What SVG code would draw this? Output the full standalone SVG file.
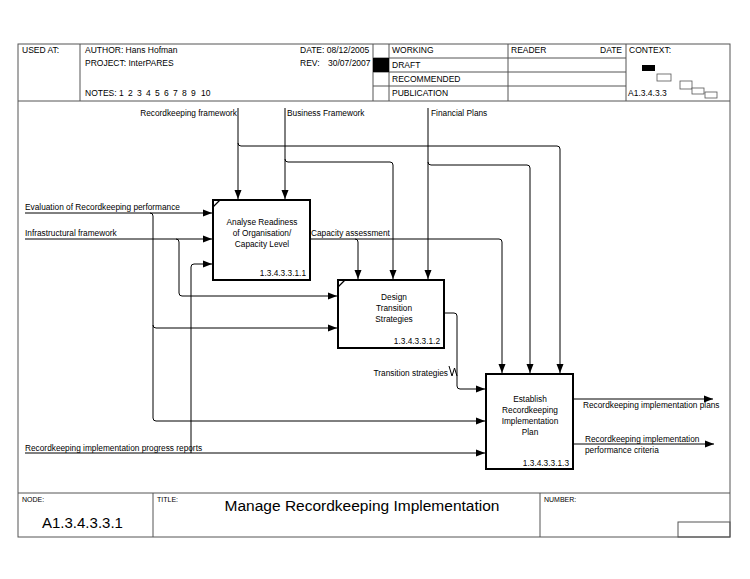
<svg xmlns="http://www.w3.org/2000/svg" width="750" height="579" viewBox="0 0 750 579">
<style>
text{font-family:"Liberation Sans",Arial,sans-serif;fill:#000}
.s{font-size:8.3px}
.h{font-size:8.5px}
.f{fill:none;stroke:#555;stroke-width:1}
.box{fill:#fff;stroke:#000;stroke-width:2}
.c{fill:none;stroke:#000;stroke-width:1}
</style>
<defs>
<marker id="a" markerUnits="userSpaceOnUse" markerWidth="10" markerHeight="8" refX="9" refY="4" orient="auto">
<path d="M0,0.5 L9,4 L0,7.5 Z" fill="#000"/>
</marker>
</defs>
<rect width="750" height="579" fill="#fff"/>
<g id="frame">
<rect class="f" x="18" y="44" width="712" height="493"/>
<line class="f" x1="18" y1="101" x2="730" y2="101"/>
<line class="f" x1="80" y1="44" x2="80" y2="101"/>
<line class="f" x1="373" y1="44" x2="373" y2="101"/>
<line class="f" x1="389" y1="44" x2="389" y2="101"/>
<line class="f" x1="508" y1="44" x2="508" y2="101"/>
<line class="f" x1="626" y1="44" x2="626" y2="101"/>
<line class="f" x1="373" y1="58" x2="626" y2="58"/>
<line class="f" x1="373" y1="72" x2="626" y2="72"/>
<line class="f" x1="373" y1="86" x2="626" y2="86"/>
<rect x="373" y="58" width="16" height="14" fill="#000"/>
<rect x="642" y="65" width="13" height="6" fill="#000"/>
<rect x="657" y="74" width="14" height="7" fill="#fff" stroke="#555" stroke-width="0.8"/>
<rect x="680" y="81" width="12" height="8" fill="#fff" stroke="#555" stroke-width="0.8"/>
<rect x="692" y="88" width="12" height="6" fill="#fff" stroke="#555" stroke-width="0.8"/>
<rect x="705" y="92" width="12" height="6" fill="#fff" stroke="#555" stroke-width="0.8"/>
<text class="h" x="22" y="53">USED AT:</text>
<text class="h" x="85" y="53">AUTHOR:  Hans Hofman</text>
<text class="h" x="300" y="53">DATE:  08/12/2005</text>
<text class="h" x="85" y="66">PROJECT:  InterPARES</text>
<text class="h" x="300" y="66">REV:</text>
<text class="h" x="328" y="66">30/07/2007</text>
<text class="h" x="85" y="96">NOTES:</text>
<text class="h" y="96"><tspan x="119">1</tspan><tspan x="128">2</tspan><tspan x="137">3</tspan><tspan x="146">4</tspan><tspan x="155">5</tspan><tspan x="164">6</tspan><tspan x="173">7</tspan><tspan x="182">8</tspan><tspan x="191">9</tspan><tspan x="201">10</tspan></text>
<text class="h" x="392" y="53">WORKING</text>
<text class="h" x="392" y="68">DRAFT</text>
<text class="h" x="392" y="82">RECOMMENDED</text>
<text class="h" x="392" y="96">PUBLICATION</text>
<text class="h" x="511" y="53">READER</text>
<text class="h" x="600" y="53">DATE</text>
<text class="h" x="629" y="53">CONTEXT:</text>
<text class="h" x="628" y="96">A1.3.4.3.3</text>
<line class="f" x1="18" y1="493" x2="730" y2="493"/>
<line class="f" x1="153" y1="493" x2="153" y2="537"/>
<line class="f" x1="540" y1="493" x2="540" y2="537"/>
<rect class="f" x="678" y="522" width="52" height="15"/>
<text x="22" y="502" font-size="7px">NODE:</text>
<text x="157" y="502" font-size="7px">TITLE:</text>
<text x="544" y="502" font-size="7px">NUMBER:</text>
<text x="42" y="528" font-size="15px">A1.3.4.3.3.1</text>
<text x="362" y="511" font-size="15.5px" text-anchor="middle">Manage Recordkeeping Implementation</text>
</g>
<g id="connectors">
<path class="c" d="M238,108 V199" marker-end="url(#a)"/>
<path class="c" d="M238,143 Q238,146 241,146 H557 Q560,146 560,149 V373" marker-end="url(#a)"/>
<path class="c" d="M285,108 V199" marker-end="url(#a)"/>
<path class="c" d="M285,159 Q285,162 288,162 H390 Q393,162 393,165 V279" marker-end="url(#a)"/>
<path class="c" d="M428,108 V279" marker-end="url(#a)"/>
<path class="c" d="M428,162 Q428,165 431,165 H527 Q530,165 530,168 V373" marker-end="url(#a)"/>
<path class="c" d="M310,239 H499 Q502,239 502,242 V373" marker-end="url(#a)"/>
<path class="c" d="M355,239 Q358,239 358,242 V279" marker-end="url(#a)"/>
<path class="c" d="M25,213 H212" marker-end="url(#a)"/>
<path class="c" d="M150,213 Q153,213 153,216 V418 Q153,421 156,421 H485" marker-end="url(#a)"/>
<path class="c" d="M153,325 Q153,328 156,328 H337" marker-end="url(#a)"/>
<path class="c" d="M25,239 H212" marker-end="url(#a)"/>
<path class="c" d="M176,239 Q179,239 179,242 V293 Q179,296 182,296 H337" marker-end="url(#a)"/>
<path class="c" d="M25,453 H485" marker-end="url(#a)"/>
<path class="c" d="M191,453 V267 Q191,264 194,264 H212" marker-end="url(#a)"/>
<path class="c" d="M444,313 H454 Q457,313 457,316 V386 Q457,389 460,389 H485" marker-end="url(#a)"/>
<path class="c" d="M573,399 H713" marker-end="url(#a)"/>
<path class="c" d="M573,444 H714" marker-end="url(#a)"/>
<polyline class="c" points="449,366 452,376 454.5,368 457,376"/>
<text class="s" x="237" y="116" text-anchor="end">Recordkeeping framework</text>
<text class="s" x="287" y="116">Business Framework</text>
<text class="s" x="431" y="116">Financial Plans</text>
<text class="s" x="311" y="236">Capacity assessment</text>
<text class="s" x="25" y="210">Evaluation of Recordkeeping performance</text>
<text class="s" x="25" y="236">Infrastructural framework</text>
<text class="s" x="25" y="451">Recordkeeping implementation progress reports</text>
<text class="s" x="448" y="376" text-anchor="end">Transition strategies</text>
<text class="s" x="583" y="408">Recordkeeping implementation plans</text>
<text class="s" x="585" y="442">Recordkeeping implementation</text>
<text class="s" x="585" y="453">performance criteria</text>
</g>
<g id="node1">
<rect class="box" x="213" y="200" width="97" height="80"/>
<line x1="213" y1="207" x2="220" y2="200" stroke="#000" stroke-width="1.2"/>
<text class="s" x="262" y="225" text-anchor="middle">Analyse Readiness</text>
<text class="s" x="262" y="236" text-anchor="middle">of Organisation/</text>
<text class="s" x="262" y="247" text-anchor="middle">Capacity Level</text>
<text class="s" x="306" y="276" text-anchor="end">1.3.4.3.3.1.1</text>
</g>
<g id="node2">
<rect class="box" x="338" y="280" width="106" height="68"/>
<line x1="338" y1="287" x2="345" y2="280" stroke="#000" stroke-width="1.2"/>
<text class="s" x="394" y="300" text-anchor="middle">Design</text>
<text class="s" x="394" y="311" text-anchor="middle">Transition</text>
<text class="s" x="394" y="322" text-anchor="middle">Strategies</text>
<text class="s" x="440" y="344" text-anchor="end">1.3.4.3.3.1.2</text>
</g>
<g id="node3">
<rect class="box" x="486" y="374" width="87" height="95"/>
<text class="s" x="530" y="402" text-anchor="middle">Establish</text>
<text class="s" x="530" y="413" text-anchor="middle">Recordkeeping</text>
<text class="s" x="530" y="424" text-anchor="middle">Implementation</text>
<text class="s" x="530" y="435" text-anchor="middle">Plan</text>
<text class="s" x="569" y="466" text-anchor="end">1.3.4.3.3.1.3</text>
</g>
</svg>
